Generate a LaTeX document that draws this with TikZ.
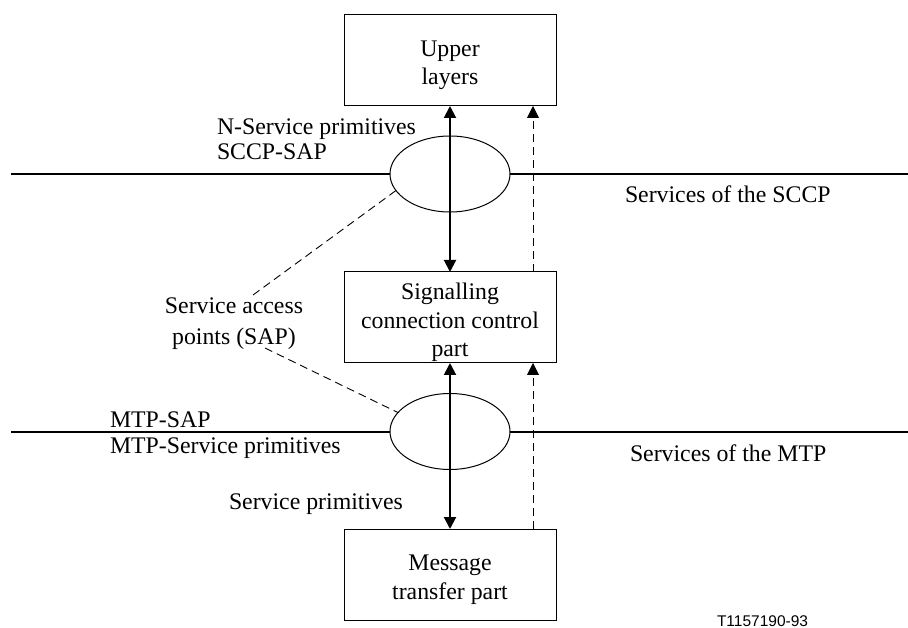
\documentclass[tikz,border=0pt]{standalone}
\usepackage{fontspec}
\setmainfont{Liberation Serif}
\newfontfamily\codefont{Liberation Sans}
\usetikzlibrary{arrows.meta,shapes.geometric}
\begin{document}
\begin{tikzpicture}[x=1pt,y=-1pt,
  every node/.style={inner sep=0pt, outer sep=0pt},
  lbl/.style={font=\fontsize{23.8}{28}\selectfont},
  layerbox/.style={draw, line width=1pt, minimum width=212pt, minimum height=91pt},
  boxtext/.style={lbl, align=center},
  sapell/.style={draw, ellipse, line width=1pt, minimum width=120pt, minimum height=76pt},
  bound/.style={line width=2pt},
  prim/.style={line width=2pt, {Triangle[length=12pt,width=12pt]}-{Triangle[length=12pt,width=12pt]}},
  flow/.style={line width=0.9pt, dash pattern=on 8pt off 5pt, -{Triangle[length=12pt,width=12pt]}},
  sapline/.style={line width=0.9pt, dash pattern=on 8pt off 5pt},
]
\useasboundingbox (0,0) rectangle (908,628);

% layer boxes
\node[layerbox] (upper) at (450,60.5) {};
\node[layerbox] (sccp) at (450,317.5) {};
\node[layerbox] (mtp) at (450,574.5) {};
\node[boxtext] (upper-t) at (450,65.7) {Upper\\layers};
\node[boxtext, font=\fontsize{23.8}{28.5}\selectfont] (sccp-t) at (450,322.5) {Signalling\\connection control\\part};
\node[boxtext, font=\fontsize{23.8}{29}\selectfont] (mtp-t) at (450,579.7) {Message\\transfer part};

% service access points
\node[sapell] (sccpsap) at (450,174) {};
\node[sapell] (mtpsap) at (450,431.5) {};

% boundaries
\coordinate (l1) at (11,174);
\coordinate (r1) at (908,174);
\coordinate (l2) at (11,431.5);
\coordinate (r2) at (908,431.5);
\draw[bound] (l1) -- (sccpsap.west);
\draw[bound] (sccpsap.east) -- (r1);
\draw[bound] (l2) -- (mtpsap.west);
\draw[bound] (mtpsap.east) -- (r2);

% primitives
\draw[prim] (sccp.north) -- (upper.south);
\draw[prim] (sccp.south) -- (mtp.north);
\coordinate (dx) at (533,0);
\draw[flow] (sccp.north -| dx) -- (upper.south -| dx);
\draw[flow] (mtp.north -| dx) -- (sccp.south -| dx);

% labels
\node[lbl, anchor=base west] (nsp) at (217,135) {N-Service primitives};
\node[lbl, anchor=base west] (sccpsap-l) at (217,159.5) {SCCP-SAP};
\node[lbl, anchor=base west] (sccp-svc) at (625,203) {Services of the SCCP};
\node[lbl, anchor=base west] (mtpsap-l) at (110,427.5) {MTP-SAP};
\node[lbl, anchor=base west] (mtp-prim) at (110,453) {MTP-Service primitives};
\node[lbl, anchor=base west] (mtp-svc) at (630,461.3) {Services of the MTP};
\node[lbl, anchor=base west] (svc-prim) at (229,509.5) {Service primitives};
\node[lbl, align=center, font=\fontsize{23.8}{31}\selectfont] (sap) at (234,323.3) {Service access\\points (SAP)};
\node[font=\codefont\fontsize{15.5}{18}\selectfont, anchor=base west] (fig-id) at (717,626) {T1157190-93};

% SAP pointers
\coordinate (sapu) at (253,295);
\coordinate (sapd) at (265,348);
\draw[sapline] (sapu) -- (sccpsap.197.5);
\draw[sapline] (sapd) -- (mtpsap.160);
\end{tikzpicture}
\end{document}
